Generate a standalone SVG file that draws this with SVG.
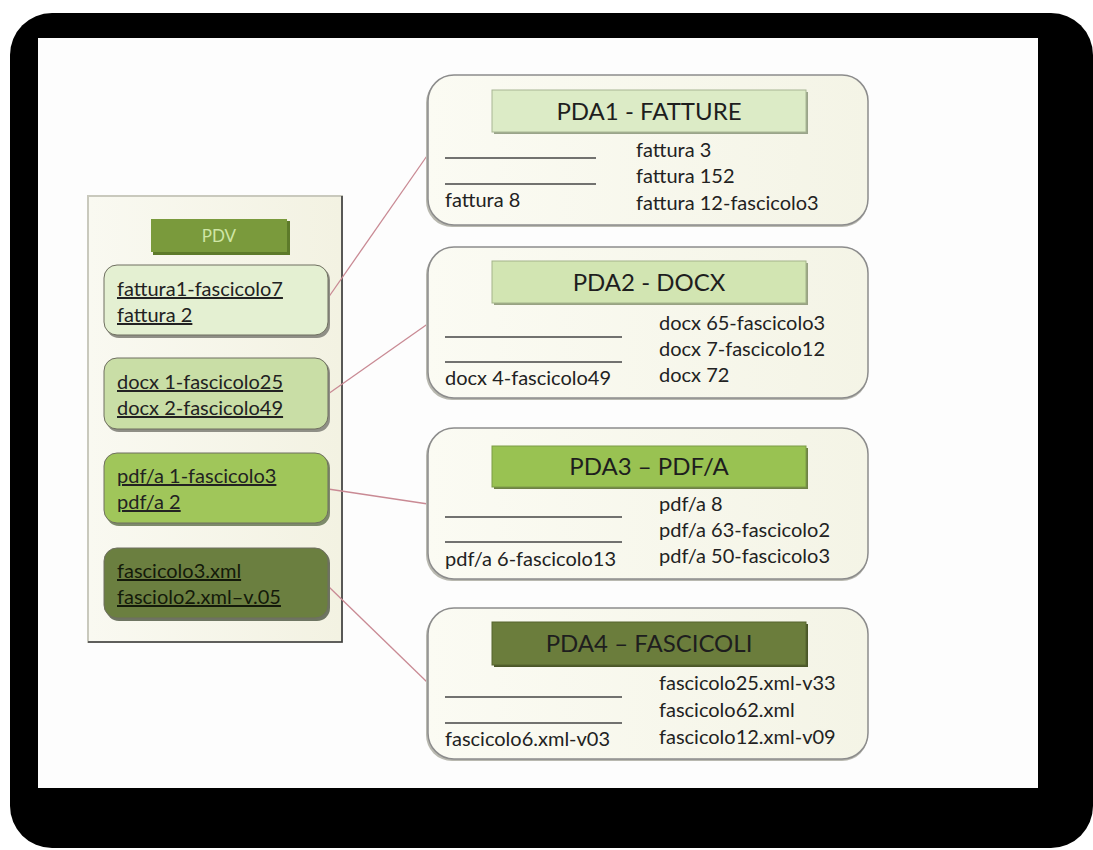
<svg xmlns="http://www.w3.org/2000/svg" width="1093" height="850" viewBox="0 0 1093 850">
  <style>
    .t { font-family: Lato, "Open Sans", sans-serif; font-size: 20px; fill: #222; }
    .u { text-decoration: underline; }
    .hd { font-family: Lato, "Open Sans", sans-serif; font-size: 24px; fill: #1e1e1e; text-anchor: middle; }
    .pda { fill: url(#cream); stroke: #8c8c8c; stroke-width: 1.5; }
    .pdaShadow { fill: #b9b9b0; }
    .rule { stroke: #444; stroke-width: 1.3; }
    .item { stroke: #6f6f60; stroke-width: 1; }
    .link { stroke: #c98a94; stroke-width: 1.3; fill: none; }
  </style>
  <defs>
    <linearGradient id="cream" x1="0" y1="0" x2="1" y2="0">
      <stop offset="0" stop-color="#fbfbf3"/>
      <stop offset="1" stop-color="#f4f4e6"/>
    </linearGradient>
    <linearGradient id="panel" x1="0" y1="0" x2="1" y2="0">
      <stop offset="0" stop-color="#f9f9f1"/>
      <stop offset="1" stop-color="#f3f2e2"/>
    </linearGradient>
  </defs>

  <!-- frame -->
  <rect x="10" y="13" width="1083" height="835" rx="42" fill="#000"/>
  <rect x="38" y="38" width="1000" height="750" fill="#fdfdfd"/>

  <!-- PDV panel -->
  <g id="pdv">
    <rect x="88" y="196" width="254" height="446" fill="url(#panel)" stroke="#c9c9bd" stroke-width="2"/>
    <path d="M342 196 V642 H88" fill="none" stroke="#3c3c3c" stroke-width="1.6"/>
    <rect x="153" y="221" width="137" height="34" fill="#5d7a2a"/>
    <rect x="151" y="219" width="136" height="33" fill="#7a9a3c"/>
    <text x="219" y="242" text-anchor="middle" style="font-family: Lato, 'Open Sans', sans-serif; font-size: 17px; fill: #cfe6a6;">PDV</text>
  </g>

  <!-- connectors -->
  <g id="connectors">
    <line class="link" x1="328" y1="298" x2="429" y2="153"/>
    <line class="link" x1="328" y1="394" x2="429" y2="323"/>
    <line class="link" x1="328" y1="489" x2="428" y2="504"/>
    <line class="link" x1="328" y1="586" x2="428" y2="683"/>
  </g>

  <g id="pdv-fatture">
    <rect x="106" y="267" width="224" height="71" rx="13" fill="#8f8f86"/>
    <rect x="104" y="265" width="224" height="70" rx="13" fill="#e4f0d2" class="item"/>
    <text class="t u" x="117" y="296">fattura1-fascicolo7</text>
    <text class="t u" x="117" y="322">fattura 2</text>
  </g>

  <g id="pdv-docx">
    <rect x="106" y="360" width="224" height="72" rx="13" fill="#8f8f86"/>
    <rect x="104" y="358" width="224" height="71" rx="13" fill="#c9dea6" class="item"/>
    <text class="t u" x="117" y="389">docx 1-fascicolo25</text>
    <text class="t u" x="117" y="415">docx 2-fascicolo49</text>
  </g>

  <g id="pdv-pdfa">
    <rect x="106" y="455" width="224" height="71" rx="13" fill="#7d8a6a"/>
    <rect x="104" y="453" width="224" height="70" rx="13" fill="#a0c65a" class="item"/>
    <text class="t u" x="117" y="483">pdf/a 1-fascicolo3</text>
    <text class="t u" x="117" y="509">pdf/a 2</text>
  </g>

  <g id="pdv-fascicoli">
    <rect x="106" y="550" width="224" height="71" rx="13" fill="#6e7562"/>
    <rect x="104" y="548" width="224" height="70" rx="13" fill="#6b7f40" class="item"/>
    <text class="t u" x="117" y="578" style="fill:#141a0a">fascicolo3.xml</text>
    <text class="t u" x="117" y="604" style="fill:#141a0a">fasciolo2.xml–v.05</text>
  </g>

  <!-- PDA1 -->
  <g id="pda1">
    <rect class="pdaShadow" x="426" y="77" width="442" height="150" rx="26"/>
    <rect class="pda" x="428" y="75" width="440" height="150" rx="26"/>
    <rect x="494" y="92" width="314" height="42" fill="#9aa48a"/>
    <rect x="492" y="90" width="314" height="42" fill="#dcebc6" stroke="#a8b694" stroke-width="1"/>
    <text class="hd" x="649" y="120">PDA1 - FATTURE</text>
    <line class="rule" x1="445" y1="158" x2="596" y2="158"/>
    <line class="rule" x1="445" y1="184" x2="596" y2="184"/>
    <text class="t" x="445" y="207">fattura 8</text>
    <text class="t" x="636" y="157">fattura 3</text>
    <text class="t" x="636" y="183">fattura 152</text>
    <text class="t" x="636" y="210">fattura 12-fascicolo3</text>
  </g>

  <!-- PDA2 -->
  <g id="pda2">
    <rect class="pdaShadow" x="426" y="249" width="442" height="151" rx="26"/>
    <rect class="pda" x="428" y="247" width="440" height="151" rx="26"/>
    <rect x="494" y="263" width="314" height="42" fill="#98a283"/>
    <rect x="492" y="261" width="314" height="42" fill="#d2e5b2" stroke="#a3b38a" stroke-width="1"/>
    <text class="hd" x="649" y="291">PDA2 - DOCX</text>
    <line class="rule" x1="445" y1="337" x2="622" y2="337"/>
    <line class="rule" x1="445" y1="362" x2="622" y2="362"/>
    <text class="t" x="445" y="385">docx 4-fascicolo49</text>
    <text class="t" x="659" y="330">docx 65-fascicolo3</text>
    <text class="t" x="659" y="356">docx 7-fascicolo12</text>
    <text class="t" x="659" y="382">docx 72</text>
  </g>

  <!-- PDA3 -->
  <g id="pda3">
    <rect class="pdaShadow" x="426" y="430" width="442" height="151" rx="26"/>
    <rect class="pda" x="428" y="428" width="440" height="151" rx="26"/>
    <rect x="494" y="448" width="314" height="41" fill="#6f8147"/>
    <rect x="492" y="446" width="314" height="41" fill="#99c252" stroke="#7d9c46" stroke-width="1"/>
    <text class="hd" x="649" y="475">PDA3 – PDF/A</text>
    <line class="rule" x1="445" y1="517" x2="622" y2="517"/>
    <line class="rule" x1="445" y1="542" x2="622" y2="542"/>
    <text class="t" x="445" y="566">pdf/a 6-fascicolo13</text>
    <text class="t" x="659" y="511">pdf/a 8</text>
    <text class="t" x="659" y="537">pdf/a 63-fascicolo2</text>
    <text class="t" x="659" y="563">pdf/a 50-fascicolo3</text>
  </g>

  <!-- PDA4 -->
  <g id="pda4">
    <rect class="pdaShadow" x="426" y="610" width="442" height="151" rx="26"/>
    <rect class="pda" x="428" y="608" width="440" height="151" rx="26"/>
    <rect x="494" y="624" width="314" height="43" fill="#4a5628"/>
    <rect x="492" y="622" width="314" height="43" fill="#6b7d3c" stroke="#56652e" stroke-width="1"/>
    <text class="hd" x="649" y="652">PDA4 – FASCICOLI</text>
    <line class="rule" x1="445" y1="697" x2="622" y2="697"/>
    <line class="rule" x1="445" y1="723" x2="622" y2="723"/>
    <text class="t" x="445" y="746">fascicolo6.xml-v03</text>
    <text class="t" x="659" y="690">fascicolo25.xml-v33</text>
    <text class="t" x="659" y="717">fascicolo62.xml</text>
    <text class="t" x="659" y="744">fascicolo12.xml-v09</text>
  </g>
</svg>
